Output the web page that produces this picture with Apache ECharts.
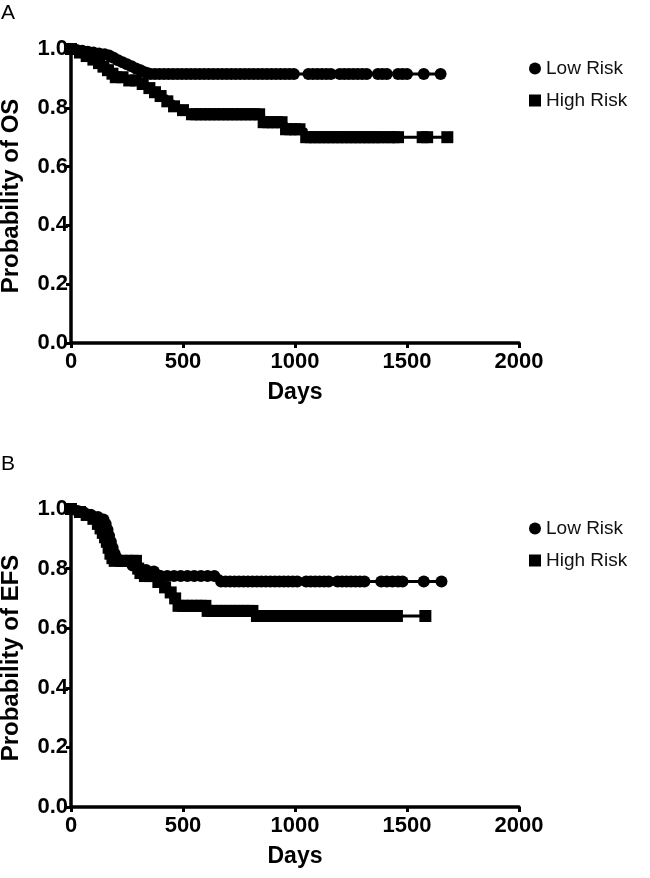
<!DOCTYPE html>
<html>
<head>
<meta charset="utf-8">
<script src="https://cdn.jsdelivr.net/npm/echarts@6/dist/echarts.min.js"></script>
<style>
html,body{margin:0;padding:0;background:#fff;}
#main{width:650px;height:878px;}
</style>
</head>
<body>
<div id="main"></div>
<script>
// ---- Panel A: Overall survival ----
const osLowDays = [0,25,50,75,100,125,150,170,190,210,230,250,270,290,310,325,340,355,
  375,395,415,435,455,475,495,515,535,555,575,595,615,635,655,675,695,715,735,755,775,795,815,835,855,875,895,915,935,955,975,995,
  1060,1080,1100,1120,1140,1160,1200,1220,1240,1260,1280,1300,1320,1370,1390,1410,1460,1480,1500,1575,1650];
const osLowSurv = [1.0,0.997,0.994,0.991,0.988,0.985,0.982,0.978,0.970,0.962,0.955,0.948,0.941,0.934,0.928,0.922,0.918,0.915,
  0.915,0.915,0.915,0.915,0.915,0.915,0.915,0.915,0.915,0.915,
  0.915,0.915,0.915,0.915,0.915,0.915,0.915,0.915,0.915,0.915,
  0.915,0.915,0.915,0.915,0.915,0.915,0.915,0.915,0.915,0.915,
  0.915,0.915,0.915,0.915,0.915,0.915,0.915,0.915,0.915,0.915,
  0.915,0.915,0.915,0.915,0.915,0.915,0.915,0.915,0.915,0.915,
  0.915,0.915,0.915];

const osHighDays = [0,40,70,100,125,145,165,185,200,230,260,290,320,350,375,400,430,460,500,540,
  560,580,600,620,640,660,680,700,720,740,760,780,800,820,840,
  860,880,900,920,940,
  960,980,1000,1020,
  1050,1070,1090,1110,1130,1150,1170,1190,1210,1230,1250,1270,1290,1310,1330,1350,1370,1390,1420,1440,1460,1570,1590,1680];
const osHighSurv = [1.0,0.988,0.976,0.964,0.952,0.94,0.928,0.916,0.904,0.904,0.893,0.893,0.881,0.867,0.853,0.84,0.822,0.805,0.792,0.778,
  0.778,0.778,0.778,0.778,0.778,0.778,0.778,0.778,0.778,0.778,0.778,0.778,0.778,0.778,0.778,
  0.751,0.751,0.751,0.751,0.751,
  0.727,0.727,0.727,0.727,
  0.70,0.70,0.70,0.70,0.70,0.70,0.70,0.70,0.70,0.70,0.70,0.70,0.70,0.70,0.70,0.70,0.70,0.70,0.70,0.70,0.70,0.70,0.70,0.70];

// ---- Panel B: Event-free survival ----
const efsLowDays = [0,30,60,90,120,145,155,163,170,178,186,195,205,220,245,275,305,335,370,400,
  430,460,490,520,550,580,610,640,
  670,690,710,730,750,770,790,810,830,850,870,890,910,930,950,970,990,1010,
  1050,1070,1090,1110,1130,1150,1190,1210,1230,1250,1270,1290,1310,1385,1410,1435,1460,1480,1575,1654];
const efsLowSurv = [1.0,0.993,0.987,0.98,0.973,0.965,0.95,0.93,0.91,0.89,0.87,0.85,0.835,0.826,0.826,0.81,0.80,0.795,0.79,0.775,
  0.775,0.775,0.775,0.775,0.775,0.775,0.775,0.775,
  0.757,0.757,0.757,0.757,0.757,0.757,0.757,0.757,0.757,0.757,0.757,0.757,0.757,0.757,0.757,0.757,0.757,0.757,
  0.757,0.757,0.757,0.757,0.757,0.757,0.757,0.757,0.757,0.757,0.757,0.757,0.757,0.757,0.757,0.757,0.757,0.757,0.757,0.757];

const efsHighDays = [0,40,70,100,120,132,142,152,160,168,176,185,195,225,250,275,290,300,310,330,350,370,390,420,445,465,480,
  500,520,540,560,580,600,
  610,630,650,670,690,710,730,750,770,790,810,
  830,850,870,890,910,930,950,970,990,1010,1030,1050,1070,1090,1110,1130,1150,1170,1190,1210,1230,1250,1270,1290,
  1315,1335,1355,1375,1395,1415,1435,1455,1582];
const efsHighSurv = [1.0,0.99,0.98,0.967,0.95,0.935,0.92,0.905,0.89,0.87,0.85,0.835,0.826,0.826,0.826,0.826,0.826,0.80,0.785,0.775,0.775,0.775,0.755,0.737,0.72,0.70,0.675,
  0.675,0.675,0.675,0.675,0.675,0.675,
  0.658,0.658,0.658,0.658,0.658,0.658,0.658,0.658,0.658,0.658,0.658,
  0.641,0.641,0.641,0.641,0.641,0.641,0.641,0.641,0.641,0.641,0.641,0.641,0.641,0.641,0.641,0.641,0.641,0.641,0.641,0.641,0.641,0.641,0.641,0.641,
  0.641,0.641,0.641,0.641,0.641,0.641,0.641,0.641,0.641];

const xTicks = [0, 500, 1000, 1500, 2000];
const yTicks = [0.0, 0.2, 0.4, 0.6, 0.8, 1.0];
const seriesNames = ['Low Risk', 'High Risk'];
const yTitles = ['Probability of OS', 'Probability of EFS'];
const panelLabels = ['A', 'B'];

function zip(a, b) { return a.map((d, i) => [d, b[i]]); }

const FONT = '"Liberation Sans", Arial, Helvetica, sans-serif';
const chart = echarts.init(document.getElementById('main'), null, {renderer: 'canvas'});

const grids = [
  {left: 71, top: 49, width: 448, height: 294, outerBoundsMode: 'none', containLabel: false},
  {left: 71, top: 509, width: 448, height: 298, outerBoundsMode: 'none', containLabel: false}
];

function xAxis(i) {
  return {
    type: 'value', gridIndex: i, min: xTicks[0], max: xTicks[xTicks.length - 1], interval: 500,
    axisLine: {show: true, lineStyle: {color: '#000', width: 3.5}},
    axisTick: {show: true, length: 5, lineStyle: {color: '#000', width: 3}},
    axisLabel: {color: '#000', fontSize: 22, fontWeight: 'bold', fontFamily: FONT, margin: 8,
      formatter: v => String(v)},
    splitLine: {show: false},
    name: 'Days', nameLocation: 'middle', nameGap: 38,
    nameTextStyle: {color: '#000', fontSize: 23, fontWeight: 'bold', fontFamily: FONT}
  };
}
function yAxis(i) {
  return {
    type: 'value', gridIndex: i, min: yTicks[0], max: yTicks[yTicks.length - 1], interval: 0.2,
    axisLine: {show: true, lineStyle: {color: '#000', width: 3.5}},
    axisTick: {show: true, length: 5, lineStyle: {color: '#000', width: 3}},
    axisLabel: {color: '#000', fontSize: 22, fontWeight: 'bold', fontFamily: FONT, margin: 3,
      formatter: v => v.toFixed(1)},
    splitLine: {show: false},
    name: yTitles[i], nameLocation: 'middle', nameGap: 48, nameRotate: 90,
    nameTextStyle: {color: '#000', fontSize: 24, fontWeight: 'bold', fontFamily: FONT}
  };
}
function km(name, i, days, surv, sym) {
  return {
    name: name, type: 'line', step: 'end', xAxisIndex: i, yAxisIndex: i,
    data: zip(days, surv), symbol: sym, symbolSize: 12, showAllSymbol: true,
    lineStyle: {color: '#000', width: 3}, itemStyle: {color: '#000'},
    animation: false, silent: true
  };
}
function legend(i, top) {
  return {
    orient: 'vertical', left: 524, top: top, itemWidth: 12, itemHeight: 12, itemGap: 13,
    textStyle: {color: '#111', fontSize: 19, fontFamily: FONT},
    data: [{name: seriesNames[0], icon: 'circle'}, {name: seriesNames[1], icon: 'rect'}],
    selectedMode: false
  };
}

chart.setOption({
  backgroundColor: '#fff',
  animation: false,
  grid: grids,
  xAxis: [xAxis(0), xAxis(1)],
  yAxis: [yAxis(0), yAxis(1)],
  legend: [legend(0, 54), legend(1, 514)],
  graphic: [
    {type: 'text', left: 1, top: 3, style: {text: panelLabels[0], fontSize: 21, fontFamily: FONT, fill: '#000'}},
    {type: 'text', left: 1, top: 454, style: {text: panelLabels[1], fontSize: 21, fontFamily: FONT, fill: '#000'}}
  ],
  series: [
    km(seriesNames[0], 0, osLowDays, osLowSurv, 'circle'),
    km(seriesNames[1], 0, osHighDays, osHighSurv, 'rect'),
    km(seriesNames[0], 1, efsLowDays, efsLowSurv, 'circle'),
    km(seriesNames[1], 1, efsHighDays, efsHighSurv, 'rect')
  ]
});
</script>
</body>
</html>
